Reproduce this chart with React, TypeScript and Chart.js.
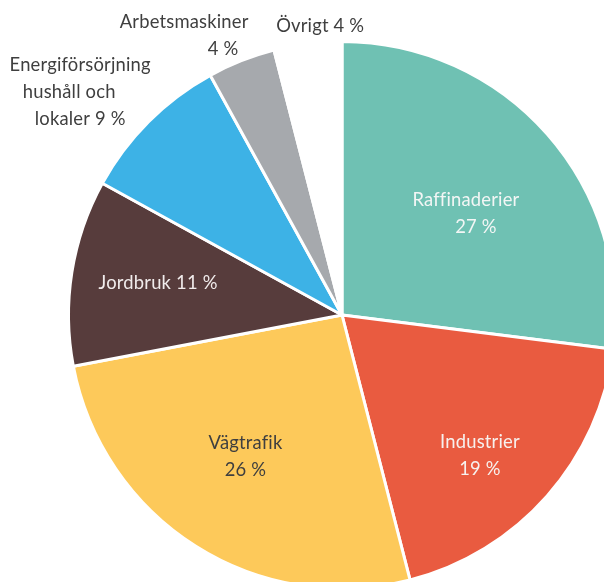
import React, { useEffect, useRef } from "react";
import { Chart, registerables } from "chart.js";

Chart.register(...registerables);

const categories = [
  "Raffinaderier",
  "Industrier",
  "Vägtrafik",
  "Jordbruk",
  "Energiförsörjning hushåll och lokaler",
  "Arbetsmaskiner",
  "Övrigt",
];
const values = [27, 19, 26, 11, 9, 4, 4];
const labelLines = [
  ["Raffinaderier", "27 %"],
  ["Industrier", "19 %"],
  ["Vägtrafik", "26 %"],
  ["Jordbruk 11 %"],
  ["Energiförsörjning", "hushåll och", "lokaler 9 %"],
  ["Arbetsmaskiner", "4 %"],
  ["Övrigt 4 %"],
];
const sliceColors = [
  "#6fc1b3",
  "#e95b40",
  "#fdc95a",
  "#573c3c",
  "#3db2e6",
  "#a6a9ad",
  "#ffffff",
];

// label layout: radius as fraction of outer radius, angle shift (deg) from slice middle, per-line x shifts
const labelLayout = [
  { r: 0.602, da: 3.1, dx: [-5, 5], color: "#f3f6f5" },
  { r: 0.721, da: 4.1, dx: [0, 0], color: "#f7f1ee" },
  { r: 0.626, da: 2.0, dx: [0, 0], color: "#3f3f3f" },
  { r: 0.684, da: 0.9, dx: [0], color: "#f1ecec" },
  { r: 1.271, da: -5.0, dx: [4, -7, 4], color: "#3f3f3f" },
  { r: 1.144, da: -4.7, dx: [-19.5, 19.5], color: "#3f3f3f" },
  { r: 1.065, da: 2.9, dx: [0], color: "#3f3f3f" },
];

const LINE_H = 27;
const X_SCALE = 0.92;

const labelPlugin = {
  id: "sliceLabels",
  afterDatasetsDraw(chart: any) {
    const ctx = chart.ctx;
    const meta = chart.getDatasetMeta(0);
    ctx.save();
    ctx.font = '20px Lato, "Liberation Sans", sans-serif';
    ctx.textAlign = "center";
    ctx.textBaseline = "middle";
    try {
      (ctx as any).textRendering = "optimizeSpeed";
      (ctx as any).letterSpacing = "0.2px";
    } catch (e) {}
    meta.data.forEach((arc: any, i: number) => {
      const p = arc.getProps(["x", "y", "startAngle", "endAngle", "outerRadius"], true);
      const lay = labelLayout[i];
      const mid = (p.startAngle + p.endAngle) / 2 + (lay.da * Math.PI) / 180;
      const R = 273;
      const cx = p.x + Math.cos(mid) * R * lay.r;
      const cy = p.y + Math.sin(mid) * R * lay.r;
      const lines = labelLines[i];
      const n = lines.length;
      ctx.fillStyle = lay.color;
      lines.forEach((t, j) => {
        const y = cy + (j - (n - 1) / 2) * LINE_H;
        ctx.save();
        ctx.translate(cx + (lay.dx[j] || 0), y);
        ctx.scale(X_SCALE, 1);
        ctx.fillText(t, 0, 0);
        ctx.restore();
      });
    });
    ctx.restore();
  },
};

export default function App() {
  const ref = useRef<HTMLCanvasElement>(null);
  useEffect(() => {
    if (!ref.current) return;
    const chart = new Chart(ref.current, {
      type: "pie",
      data: {
        labels: categories,
        datasets: [
          {
            data: values,
            backgroundColor: sliceColors,
            borderColor: "#ffffff",
            borderWidth: 3,
          },
        ],
      },
      options: {
        responsive: false,
        animation: false,
        layout: { padding: 40 },
        plugins: {
          legend: { display: false },
          tooltip: { enabled: false },
        },
      },
      plugins: [labelPlugin],
    });
    return () => chart.destroy();
  }, []);
  return (
    <div
      style={{
        position: "fixed",
        left: 0,
        top: 0,
        width: 604,
        height: 582,
        overflow: "hidden",
        background: "#ffffff",
      }}
    >
      <canvas
        ref={ref}
        width={684}
        height={630}
        style={{ position: "absolute", left: 0, top: 0, width: 684, height: 630 }}
      />
    </div>
  );
}
